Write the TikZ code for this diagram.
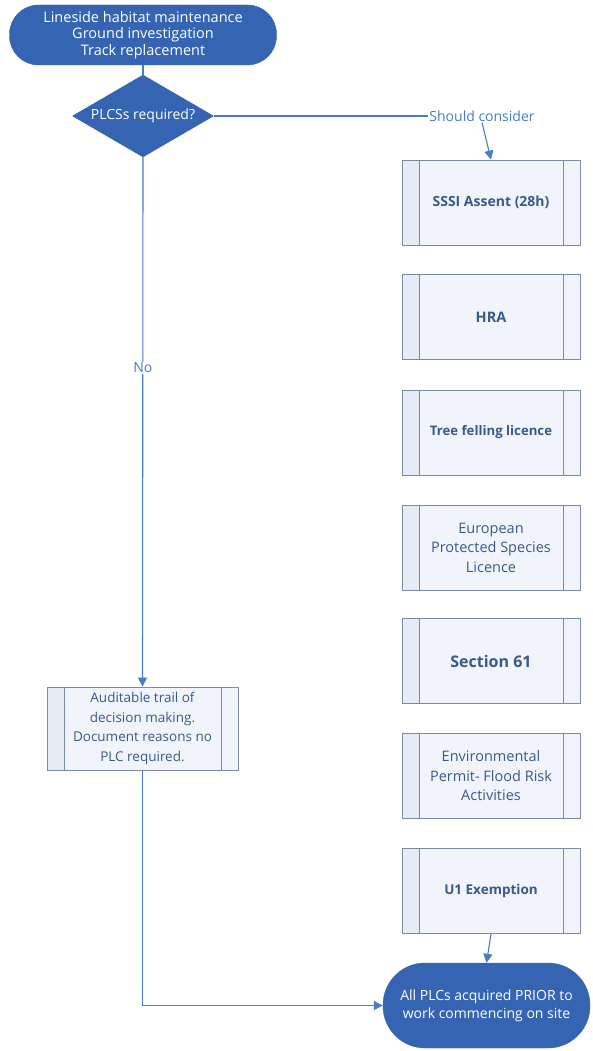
\documentclass[tikz,border=0pt]{standalone}
\usepackage{fontspec}
\setmainfont{Open Sans}
\usetikzlibrary{shapes.geometric,arrows.meta}
\definecolor{darkfill}{HTML}{3565B2}
\definecolor{linecol}{HTML}{4A7BC8}
\definecolor{boxtext}{HTML}{3A5A8C}
\definecolor{boxborder}{HTML}{7A8CA5}
\definecolor{boxfill}{HTML}{F1F5FB}
\definecolor{stripfill}{HTML}{E6ECF5}
\tikzset{
  x=1pt,y=-1pt,
  terminal/.style={draw=darkfill,fill=darkfill,text=white,rounded corners=#1,align=center,inner sep=2pt},
  decision/.style={diamond,aspect=1.72,draw=darkfill,fill=darkfill,text=white,inner sep=0pt,minimum width=141pt,minimum height=82pt,font=\fontsize{14}{16}\selectfont},
  procbox/.style={draw=boxborder,line width=0.8pt,fill=boxfill,text=boxtext,align=center,minimum height=85pt,minimum width=178pt,inner sep=2pt,
    path picture={
      \fill[stripfill] (path picture bounding box.north west) rectangle ([xshift=17pt]path picture bounding box.south west);
      \draw[boxborder,line width=0.8pt] ([xshift=17pt]path picture bounding box.north west) -- ([xshift=17pt]path picture bounding box.south west);
      \draw[boxborder,line width=0.8pt] ([xshift=-17pt]path picture bounding box.north east) -- ([xshift=-17pt]path picture bounding box.south east);
    }},
  conn/.style={draw=linecol,line width=1.1pt},
  arr/.style={conn,-{Triangle[length=9pt,width=9pt]}},
  lbl/.style={fill=white,text=linecol,inner sep=1pt,font=\fontsize{14}{16}\selectfont},
  mt/.style={font=\fontsize{14.5}{19.5}\selectfont},
}
\begin{document}
\begin{tikzpicture}
\useasboundingbox[fill=white] (0,0) rectangle (592,1051);

\node[terminal=29pt,minimum width=267pt,minimum height=60pt,font=\fontsize{14.5}{16.5}\selectfont] (start) at (143,35)
  {Lineside habitat maintenance\\Ground investigation\\Track replacement};
\node[decision] (dec) at (143,116) {PLCSs required?};

\node[lbl] (consider) at (482,116) {Should consider};

\node[procbox,font=\fontsize{14}{16}\selectfont\bfseries] (b1) at (491,202.5) {SSSI Assent (28h)};
\node[procbox,font=\fontsize{14.5}{16}\selectfont\bfseries] (b2) at (491,317) {HRA};
\node[procbox,font=\fontsize{13.2}{16}\selectfont\bfseries] (b3) at (491,432.5) {Tree felling licence};
\node[procbox,mt] (b4) at (491,547.5) {European\\Protected Species\\Licence};
\node[procbox,font=\fontsize{16}{18}\selectfont\bfseries] (b5) at (491,661) {Section 61};
\node[procbox,mt] (b6) at (491,776) {Environmental\\Permit- Flood Risk\\Activities};
\node[procbox,font=\fontsize{13.5}{16}\selectfont\bfseries] (b7) at (491,891) {U1 Exemption};

\node[procbox,font=\fontsize{13.5}{19.5}\selectfont,minimum width=191pt,minimum height=83pt] (audit) at (142.5,728.5)
  {Auditable trail of\\decision making.\\Document reasons no\\PLC required.};

\node[terminal=42pt,minimum width=207pt,minimum height=85pt,font=\fontsize{14}{18}\selectfont] (end) at (486.5,1005.5)
  {All PLCs acquired PRIOR to\\work commencing on site};

\coordinate (corner) at (audit.south |- end.west);

\draw[conn] (start.south) -- (dec.north);
\draw[conn] (dec.east) -- (consider.west);
\draw[arr] (consider.south) -- (b1.north);
\draw[arr] (dec.south) -- node[lbl,pos=0.398] {No} (audit.north);
\draw[arr] (b7.south) -- (end.north);
\draw[arr] (audit.south) -- (corner) -- (end.west);
\end{tikzpicture}
\end{document}
